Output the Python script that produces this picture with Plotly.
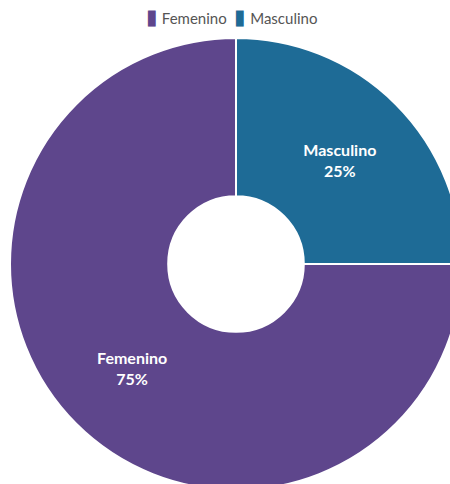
import plotly.graph_objects as go

labels = ["Femenino", "Masculino"]
values = [75, 25]
colors = ["#5E468C", "#1E6B96"]

fig = go.Figure(go.Pie(
    labels=labels,
    values=values,
    hole=0.3,
    sort=False,
    direction="counterclockwise",
    rotation=90,
    marker=dict(colors=colors, line=dict(color="white", width=2)),
    texttemplate="%{label}<br>%{percent:.0%}",
    textposition="inside",
    insidetextorientation="horizontal",
    insidetextfont=dict(color="white", size=16, family="Lato", weight="bold"),
    hoverinfo="label+percent",
    showlegend=False,
))

legend_text = "  ".join(
    f"<span style='color:{c};font-size:21px'>▮</span> {l}" for l, c in zip(labels, colors)
)
fig.add_annotation(
    text=legend_text, xref="paper", yref="paper", x=0.49, y=1.0,
    xanchor="center", yanchor="bottom", yshift=8, showarrow=False,
    font=dict(family="Lato", size=15, color="#555555"),
)

fig.update_layout(
    width=472, height=500,
    margin=dict(l=10, r=10, t=38, b=10),
    paper_bgcolor="white",
    font=dict(family="Lato", size=14, color="#555555"),
)

fig.write_html("out.html", config={"displayModeBar": False},
               post_script="document.body.style.overflow='hidden';document.body.style.margin='0';")
